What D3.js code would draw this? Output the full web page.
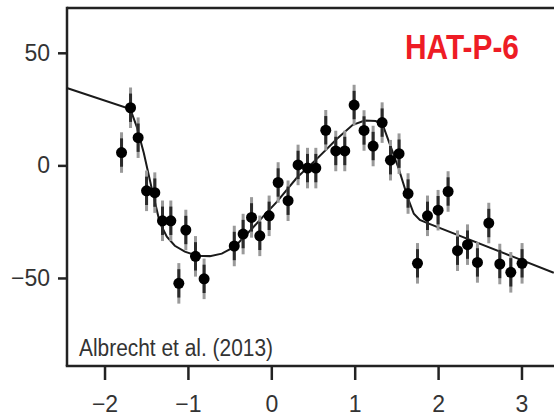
<!DOCTYPE html>
<html>
<head>
<meta charset="utf-8">
<script src="https://cdn.jsdelivr.net/npm/d3@7"></script>
<style>
  html, body { margin: 0; padding: 0; background: #fff; }
  svg { display: block; }
</style>
</head>
<body>
<svg id="chart" width="554" height="417"></svg>
<script>
// Time from mid-transit (hours)
const obsTime = [
  -1.796, -1.688, -1.597, -1.496, -1.397, -1.305, -1.205, -1.109, -1.025, -0.909,
  -0.806, -0.444, -0.338, -0.237, -0.138, -0.026, 0.082, 0.201, 0.321, 0.434,
  0.534, 0.653, 0.773, 0.881, 0.993, 1.112, 1.221, 1.329, 1.429, 1.532,
  1.640, 1.753, 1.873, 2.000, 2.120, 2.233, 2.353, 2.472, 2.608, 2.740,
  2.872, 3.007
];
// Measured radial velocity (m/s)
const obsRV = [
  5.7, 25.6, 12.3, -11.3, -12.1, -24.6, -24.6, -52.4, -28.7, -40.4,
  -50.4, -35.8, -30.5, -23.1, -31.3, -22.4, -7.6, -15.7, 0.2, -1.2,
  -1.2, 15.6, 6.4, 6.4, 26.8, 15.5, 8.6, 19.0, 2.3, 5.2,
  -12.5, -43.5, -22.4, -19.9, -11.6, -37.9, -35.2, -43.1, -25.6, -43.8,
  -47.5, -43.5
];
// Uncertainty on each velocity (m/s)
const obsErr = obsTime.map(() => 9);

// Best-fit Rossiter–McLaughlin model curve
const modelTime = [
  -2.452, -1.691, -1.613, -1.529, -1.433, -1.337, -1.253, -1.157, -1.037, -0.893,
  -0.737, -0.594, -0.438, -0.222, -0.078, 0.066, 0.306, 0.546, 0.785, 0.977,
  1.121, 1.253, 1.337, 1.433, 1.529, 1.637, 1.709, 1.781, 1.865, 3.387
];
const modelRV = [
  34.4, 25.0, 17.1, 5.5, -10.4, -25.5, -31.7, -35.7, -38.3, -40.1,
  -40.3, -39.2, -36.1, -27.7, -21.9, -16.2, -5.5, 2.9, 11.7, 18.0,
  19.9, 19.7, 18.0, 8.2, -1.6, -14.4, -21.5, -24.2, -25.5, -47.7
];

const xTicks = [-2, -1, 0, 1, 2, 3];
const yTicks = [-50, 0, 50];

const svg = d3.select("#chart");
const plotLeft = 67, plotRight = 554, plotTop = 8, plotBottom = 366;

const x = d3.scaleLinear().domain([-2.45, 3.39]).range([plotLeft, plotRight]);
const y = d3.scaleLinear().domain([-89.1, 69.9]).range([plotBottom, plotTop]);

const font = "Liberation Sans, Arial, Helvetica, sans-serif";
const fmt = d3.format("d");

// frame: top border
svg.append("line")
  .attr("x1", plotLeft).attr("x2", plotRight)
  .attr("y1", plotTop).attr("y2", plotTop)
  .attr("stroke", "#222").attr("stroke-width", 2.5);

// axes
const xAxis = svg.append("g")
  .attr("transform", `translate(0,${plotBottom})`)
  .call(d3.axisBottom(x).tickValues(xTicks).tickFormat(fmt)
    .tickSize(14).tickPadding(16).tickSizeOuter(0));
const yAxis = svg.append("g")
  .attr("transform", `translate(${plotLeft},0)`)
  .call(d3.axisLeft(y).tickValues(yTicks).tickFormat(fmt)
    .tickSize(9).tickPadding(8).tickSizeOuter(0));

[xAxis, yAxis].forEach(g => {
  g.select(".domain").attr("stroke", "#222").attr("stroke-width", 2.5);
  g.selectAll(".tick line").attr("stroke", "#222").attr("stroke-width", 2.5);
  g.selectAll(".tick text")
    .attr("fill", "#333")
    .style("font-family", font)
    .style("font-size", "23px");
});
// extend the axis lines to the chart corners
xAxis.select(".domain").attr("d", `M${plotLeft - 1.25},0H${plotRight}`);
yAxis.select(".domain").attr("d", `M0,${plotTop - 1.25}V${plotBottom}`);

// model curve
const line = d3.line().x(d => x(d[0])).y(d => y(d[1]));
svg.append("path")
  .datum(d3.zip(modelTime, modelRV))
  .attr("d", line)
  .attr("fill", "none")
  .attr("stroke", "#1a1a1a")
  .attr("stroke-width", 2);

// data points with error bars
const pts = svg.append("g").selectAll("g")
  .data(d3.zip(obsTime, obsRV, obsErr))
  .join("g");

pts.append("line")
  .attr("x1", d => x(d[0])).attr("x2", d => x(d[0]))
  .attr("y1", d => y(d[1] + d[2])).attr("y2", d => y(d[1] - d[2]))
  .attr("stroke", "#9a9a9a").attr("stroke-width", 3);
pts.append("line")
  .attr("x1", d => x(d[0])).attr("x2", d => x(d[0]))
  .attr("y1", d => y(d[1] + d[2] * 0.7)).attr("y2", d => y(d[1] - d[2] * 0.7))
  .attr("stroke", "#2a2a2a").attr("stroke-width", 3);
pts.append("circle")
  .attr("cx", d => x(d[0])).attr("cy", d => y(d[1]))
  .attr("r", 5.5)
  .attr("fill", "#000");

// labels
svg.append("text")
  .attr("x", 405).attr("y", 59)
  .attr("textLength", 114).attr("lengthAdjust", "spacingAndGlyphs")
  .attr("fill", "#ee1c25")
  .style("font-family", font)
  .style("font-weight", "bold")
  .style("font-size", "35px")
  .text("HAT-P-6");

svg.append("text")
  .attr("x", 79).attr("y", 356)
  .attr("textLength", 194).attr("lengthAdjust", "spacingAndGlyphs")
  .attr("fill", "#333")
  .style("font-family", font)
  .style("font-size", "23px")
  .text("Albrecht et al. (2013)");
</script>
</body>
</html>
